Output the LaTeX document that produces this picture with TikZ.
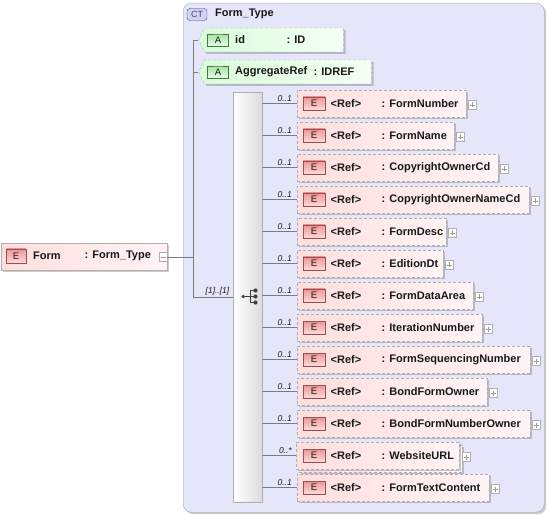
\documentclass[tikz,border=0pt]{standalone}
\usepackage{fontspec}
\setmainfont{Liberation Sans}
\usetikzlibrary{shadows,shapes.symbols,shapes.misc,calc}
\definecolor{ctfill}{RGB}{230,230,250}
\definecolor{ctline}{RGB}{165,165,185}
\definecolor{pinkL}{RGB}{255,222,222}
\definecolor{pinkR}{RGB}{255,244,244}
\definecolor{badgeT}{RGB}{238,150,150}
\definecolor{badgeB}{RGB}{255,218,218}
\definecolor{badgeline}{RGB}{150,80,80}
\definecolor{greenL}{RGB}{218,252,218}
\definecolor{greenR}{RGB}{244,255,244}
\definecolor{abadgeT}{RGB}{165,228,165}
\definecolor{abadgeB}{RGB}{228,252,228}
\definecolor{abadgeline}{RGB}{70,120,70}
\definecolor{boxline}{RGB}{175,175,175}
\definecolor{connline}{RGB}{125,125,125}
\definecolor{txtc}{RGB}{25,25,25}
\definecolor{ctbadge}{RGB}{210,210,245}
\definecolor{ctbadgeline}{RGB}{70,70,120}
\tikzset{
  txt/.style={font=\fontsize{11}{13}\selectfont\bfseries, text=txtc, inner sep=0pt, anchor=west},
  multl/.style={font=\fontsize{8.5}{10}\selectfont\itshape, text=txtc, inner sep=0pt, anchor=south east},
  shad/.style={drop shadow={shadow xshift=2pt, shadow yshift=-2pt, opacity=0.2, fill=black}},
  elembox/.style={draw=boxline, dash pattern=on 3pt off 2pt, left color=pinkL, right color=pinkR, shad, anchor=north west, inner sep=0pt, minimum height=27pt},
  mainbox/.style={draw=boxline, left color=pinkL, right color=pinkR, shad, anchor=north west, inner sep=0pt, minimum height=27pt, minimum width=166pt},
  attrbox/.style={signal, signal to=west, signal pointer angle=128, draw=boxline, dash pattern=on 3pt off 2pt, left color=greenL, right color=greenR, shad, inner sep=0pt, minimum height=24pt},
  ebadge/.style={draw=badgeline, top color=badgeT, bottom color=badgeB, minimum width=22pt, minimum height=13pt, inner sep=0pt, font=\fontsize{9.5}{11}\selectfont, text=txtc},
  abadge/.style={rounded rectangle, rounded rectangle right arc=none, rounded rectangle left arc=3pt, draw=abadgeline, top color=abadgeT, bottom color=abadgeB, minimum width=21pt, minimum height=12pt, inner sep=0pt, font=\fontsize{9.5}{11}\selectfont, text=txtc},
  ctbox/.style={draw=ctline, fill=ctfill, rounded corners=8pt, shad, anchor=north west, inner sep=0pt, minimum width=361pt, minimum height=509pt},
  ctbadgest/.style={draw=ctbadgeline, fill=ctbadge, rounded corners=3pt, minimum width=20pt, minimum height=12pt, inner sep=0pt, font=\fontsize{9}{10}\selectfont, text=ctbadgeline},
  seqbox/.style={draw=boxline, left color=white, right color=gray!28, anchor=north west, inner sep=0pt, minimum width=29pt, minimum height=410pt},
  pmbox/.style={draw=boxline, fill=white, minimum width=8pt, minimum height=9pt, inner sep=0pt},
  pmline/.style={draw=gray!80, line width=0.6pt},
  conn/.style={draw=connline, line width=0.7pt},
}
\begin{document}
\begin{tikzpicture}[x=1pt,y=-1pt]
\useasboundingbox (0,0) rectangle (547,516);

% complex type container
\node[ctbox] (ct) at (183,3) {};
\node[ctbadgest] (ctb) at (197,14.5) {CT};
\node[txt] (ctname) at (215,14) {Form\_Type};

% main element
\node[mainbox] (form) at (1,243) {};
\node[ebadge, minimum width=20pt, minimum height=14pt] (formb) at (16,256) {E};
\node[txt] (formn) at (33,256) {Form};
\node[txt] (formt) at (84.5,256) {: Form\_Type};
\node[pmbox] (formpm) at (163,257) {};
\draw[pmline] ($(formpm.center)+(-2.5,0)$) -- ($(formpm.center)+(2.5,0)$);

% junction lines
\coordinate (vtop) at (193,40);
\coordinate (vbot) at (193,297);
\coordinate (vj) at (193,257);
\draw[conn] (formpm.east) -- (vj);
\draw[conn] (vtop) -- (vbot);

% attributes
\node[attrbox, minimum width=145pt] (aid) at (274,40) {};
\node[abadge] (aidb) at (218,40) {A};
\node[txt] (aidn) at (235,40) {id};
\node[txt] (aidt) at (286.5,40) {: ID};
\node[attrbox, minimum width=173pt] (aagg) at (288,72) {};
\node[abadge] (aaggb) at (218,72) {A};
\node[txt] (aaggn) at (235,72) {AggregateRef};
\node[txt] (aaggt) at (313.5,72) {: IDREF};
\draw[conn] (vtop) -- (aid.west);
\draw[conn] (vtop |- aagg.west) -- (aagg.west);

% sequence
\node[seqbox] (seq) at (233,92) {};
\draw[conn] (vbot) -- (seq.west |- vbot);
\node[multl] (seqm) at (229.5,295) {[1]..[1]};
\begin{scope}[draw=black!75, fill=black!75, line width=0.8pt]
\fill (243.2,296.5) circle (1.9);
\draw (243.2,296.5) -- (250,296.5);
\draw (250,290.5) -- (250,302.5);
\draw (250,290.5) -- (255.5,290.5) (250,296.5) -- (255.5,296.5) (250,302.5) -- (255.5,302.5);
\fill (255.5,290.5) circle (2.1) (255.5,296.5) circle (2.1) (255.5,302.5) circle (2.1);
\end{scope}

% children
\foreach \i/\nm/\r/\m/\s in {
 1/FormNumber/466/0..1/0,
 2/FormName/454/0..1/0,
 3/CopyrightOwnerCd/498/0..1/0,
 4/CopyrightOwnerNameCd/529/0..1/0,
 5/FormDesc/446/0..1/0,
 6/EditionDt/443/0..1/0,
 7/FormDataArea/473/0..1/0,
 8/IterationNumber/482/0..1/0,
 9/FormSequencingNumber/530/0..1/0,
 10/BondFormOwner/487/0..1/0,
 11/BondFormNumberOwner/530/0..1/0,
 12/WebsiteURL/460/0..*/1,
 13/FormTextContent/489/0..1/0}{
  \pgfmathsetmacro\y{104+32*(\i-1)}
  \pgfmathsetmacro\w{\r-297}
  \ifnum\s=1
    \node[elembox, minimum width=\w pt] (k\i) at (299,\y-11) {};
    \node[elembox, minimum width=\w pt] (c\i) at (296,\y-14) {};
  \else
    \node[elembox, minimum width=\w pt] (c\i) at (297,\y-14) {};
  \fi
  \node[ebadge] (b\i) at (314,\y-0.5) {E};
  \node[txt] (r\i) at (330.5,\y) {<Ref>};
  \node[txt] (n\i) at (381.5,\y) {: \nm};
  \node[pmbox] (p\i) at (\r+6.5,\y+1) {};
  \draw[pmline] ($(p\i.center)+(-2.5,0)$) -- ($(p\i.center)+(2.5,0)$);
  \draw[pmline] ($(p\i.center)+(0,-2.5)$) -- ($(p\i.center)+(0,2.5)$);
  \draw[conn] (seq.east |- c\i.west) -- (c\i.west);
  \node[multl] (m\i) at (292,\y-2) {\m};
}
\end{tikzpicture}
\end{document}
